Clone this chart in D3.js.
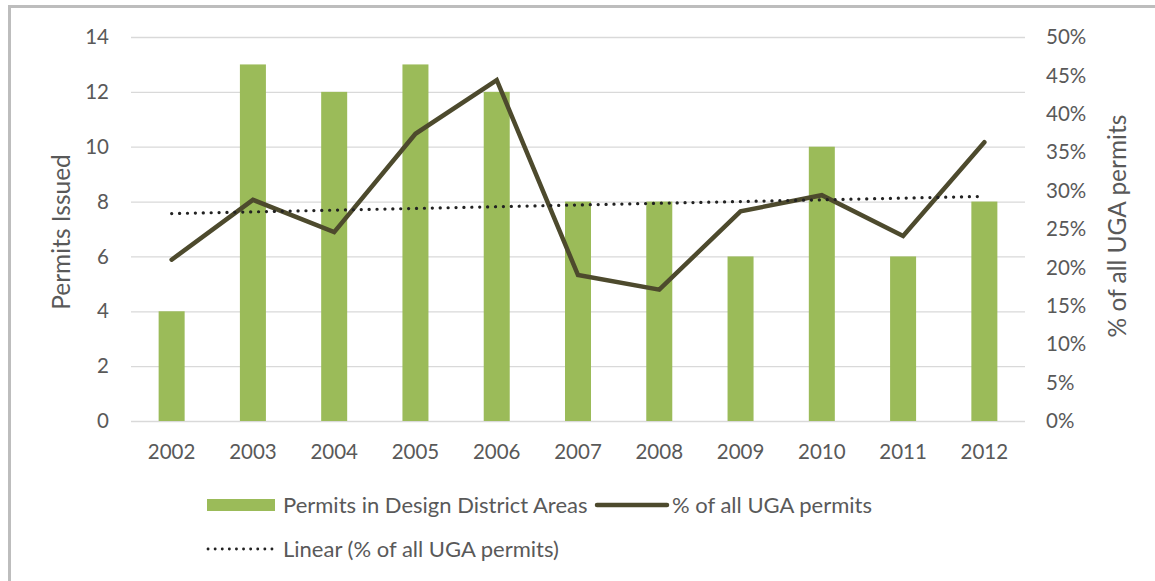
<!DOCTYPE html>
<html>
<head>
<meta charset="utf-8">
<script src="https://cdn.jsdelivr.net/npm/d3@7"></script>
<style>
  body { margin: 0; background: #fff; }
  text { font-family: Lato, "Liberation Sans", sans-serif; fill: #595959; }
</style>
</head>
<body>
<div id="chart"></div>
<script>
var years = ["2002","2003","2004","2005","2006","2007","2008","2009","2010","2011","2012"];
var permits = [4, 13, 12, 13, 12, 8, 8, 6, 10, 6, 8];
var ugaShare = [21.0, 28.8, 24.6, 37.4, 44.4, 19.0, 17.1, 27.3, 29.4, 24.1, 36.3];
var leftTicks = [0, 2, 4, 6, 8, 10, 12, 14];
var rightTicks = [0, 5, 10, 15, 20, 25, 30, 35, 40, 45, 50];

var width = 1155,
    height = 581;

var svg = d3.select("#chart")
    .append("svg")
    .attr("width", width)
    .attr("height", height);

// frame (partly cropped in original)
svg.append("path")
    .attr("d", "M9.5,581 V6.5 H1155")
    .attr("fill", "none")
    .attr("stroke", "#bdbdbd")
    .attr("stroke-width", 3);

var x = d3.scaleBand().domain(years).range([131, 1025]).paddingInner(0.68).paddingOuter(0.34);
var yL = d3.scaleLinear().domain([0, 14]).range([421, 37]);
var yR = d3.scaleLinear().domain([0, 50]).range([421, 37]);
var cx = function(d) { return x(d) + x.bandwidth() / 2; };

// gridlines
svg.append("g")
    .selectAll("line")
    .data(leftTicks)
    .enter()
    .append("line")
    .attr("x1", 131).attr("x2", 1025)
    .attr("y1", function(d) { return yL(d) + 0.5; })
    .attr("y2", function(d) { return yL(d) + 0.5; })
    .attr("stroke", "#d9d9d9")
    .attr("stroke-width", 1.3);

// left tick labels
svg.append("g")
    .selectAll("text")
    .data(leftTicks)
    .enter()
    .append("text")
    .attr("x", 109)
    .attr("y", function(d) { return yL(d); })
    .attr("dy", "0.35em")
    .attr("text-anchor", "end")
    .style("font-size", "20.5px")
    .text(function(d) { return d; });

// right tick labels
svg.append("g")
    .selectAll("text")
    .data(rightTicks)
    .enter()
    .append("text")
    .attr("x", 1046)
    .attr("y", function(d) { return yR(d); })
    .attr("dy", "0.35em")
    .style("font-size", "20.5px")
    .text(function(d) { return d + "%"; });

// x labels
svg.append("g")
    .selectAll("text")
    .data(years)
    .enter()
    .append("text")
    .attr("x", cx)
    .attr("y", 452)
    .attr("dy", "0.35em")
    .attr("text-anchor", "middle")
    .style("font-size", "20.5px")
    .text(function(d) { return d; });

// axis titles
svg.append("text")
    .attr("transform", "translate(70,232) rotate(-90)")
    .attr("text-anchor", "middle")
    .style("font-size", "24.5px")
    .text("Permits Issued");

svg.append("text")
    .attr("transform", "translate(1126,226) rotate(-90)")
    .attr("text-anchor", "middle")
    .style("font-size", "24.5px")
    .text("% of all UGA permits");

// bars
svg.append("g")
    .selectAll("rect")
    .data(permits)
    .enter()
    .append("rect")
    .attr("x", function(d, i) { return x(years[i]); })
    .attr("y", function(d) { return yL(d); })
    .attr("width", x.bandwidth())
    .attr("height", function(d) { return yL(0) - yL(d); })
    .style("fill", "#9bbb59");

// line series
var line = d3.line()
    .x(function(d, i) { return cx(years[i]); })
    .y(function(d) { return yR(d); });

svg.append("path")
    .datum(ugaShare)
    .attr("d", line)
    .attr("fill", "none")
    .attr("stroke", "#4d4a2d")
    .attr("stroke-width", 4.5)
    .attr("stroke-linecap", "round")
    .attr("stroke-linejoin", "miter");

// linear trendline (least squares on the series)
var n = ugaShare.length;
var mx = d3.mean(d3.range(n)), my = d3.mean(ugaShare);
var sxy = d3.sum(ugaShare, function(d, i) { return (i - mx) * (d - my); });
var sxx = d3.sum(d3.range(n), function(i) { return (i - mx) * (i - mx); });
var slope = sxy / sxx, icpt = my - slope * mx;
var trend = [0, n - 1].map(function(i) { return { i: i, v: icpt + slope * i }; });

svg.append("path")
    .datum(trend)
    .attr("d", d3.line()
        .x(function(d) { return cx(years[d.i]); })
        .y(function(d) { return yR(d.v); }))
    .attr("fill", "none")
    .attr("stroke", "#222")
    .attr("stroke-width", 3.2)
    .attr("stroke-dasharray", "0.1 7.8")
    .attr("stroke-linecap", "round");

// legend
var lg = svg.append("g");
lg.append("rect")
    .attr("x", 207).attr("y", 499)
    .attr("width", 68).attr("height", 12)
    .style("fill", "#9bbb59");
lg.append("text")
    .attr("x", 283).attr("y", 505).attr("dy", "0.35em")
    .style("font-size", "22px")
    .text("Permits in Design District Areas");
lg.append("line")
    .attr("x1", 597).attr("x2", 667)
    .attr("y1", 505).attr("y2", 505)
    .attr("stroke", "#4d4a2d")
    .attr("stroke-width", 4.5)
    .attr("stroke-linecap", "round");
lg.append("text")
    .attr("x", 672).attr("y", 505).attr("dy", "0.35em")
    .style("font-size", "22px")
    .text("% of all UGA permits");
lg.append("line")
    .attr("x1", 208).attr("x2", 273)
    .attr("y1", 549).attr("y2", 549)
    .attr("stroke", "#222")
    .attr("stroke-width", 2.8)
    .attr("stroke-dasharray", "0.1 7")
    .attr("stroke-linecap", "round");
lg.append("text")
    .attr("x", 283).attr("y", 549).attr("dy", "0.35em")
    .style("font-size", "22px")
    .text("Linear (% of all UGA permits)");
</script>
</body>
</html>
